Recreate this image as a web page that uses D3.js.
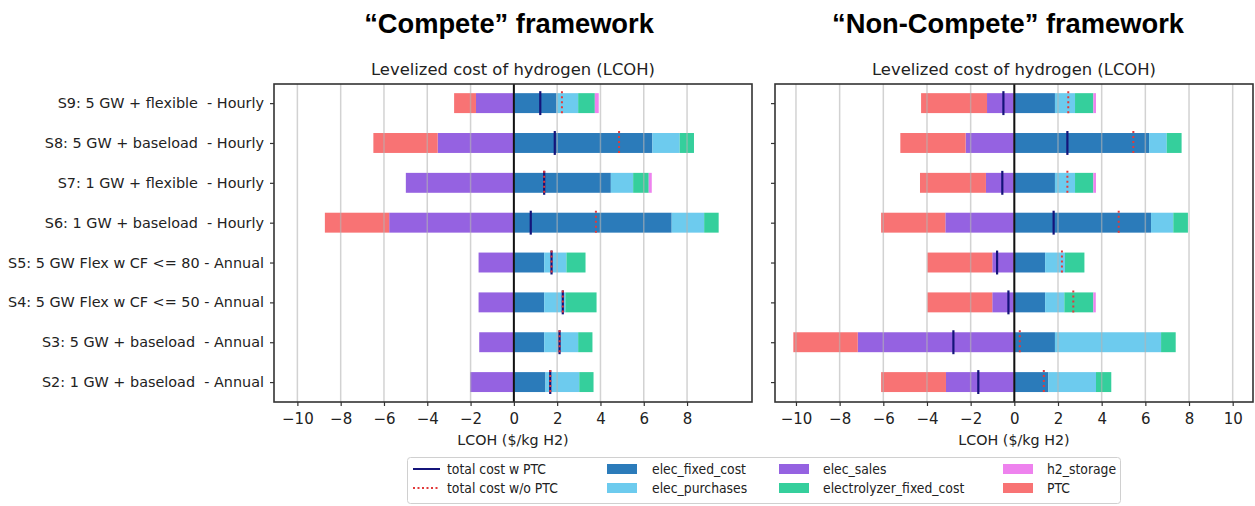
<!DOCTYPE html>
<html>
<head>
<meta charset="utf-8">
<script src="https://cdn.jsdelivr.net/npm/d3@7"></script>
<style>
  html, body { margin: 0; padding: 0; background: #fff; }
  svg { display: block; }
</style>
</head>
<body>
<svg id="chart" width="1255" height="506"></svg>
<script>
// Scenarios, bottom to top
const categories = [
  "S2: 1 GW + baseload  - Annual",
  "S3: 5 GW + baseload  - Annual",
  "S4: 5 GW Flex w CF <= 50 - Annual",
  "S5: 5 GW Flex w CF <= 80 - Annual",
  "S6: 1 GW + baseload  - Hourly",
  "S7: 1 GW + flexible  - Hourly",
  "S8: 5 GW + baseload  - Hourly",
  "S9: 5 GW + flexible  - Hourly"
];

// "Compete" framework components ($/kg H2)
const competeElecFixed      = [1.46, 1.40, 1.40, 1.40, 7.29, 4.48, 6.40, 1.97];
const competeElecPurchases  = [1.56, 1.57, 0.98, 1.03, 1.50, 1.03, 1.26, 1.00];
const competeElectrolyzer   = [0.66, 0.66, 1.44, 0.88, 0.67, 0.72, 0.66, 0.77];
const competeH2Storage      = [0.00, 0.00, 0.00, 0.00, 0.00, 0.14, 0.00, 0.18];
const competeElecSales      = [-2.02, -1.60, -1.63, -1.63, -5.76, -4.99, -3.52, -1.75];
const competePTC            = [0.00, 0.00, 0.00, 0.00, -2.97, 0.00, -2.97, -1.01];
const competeTotalWithPTC   = [1.68, 2.11, 2.26, 1.74, 0.78, 1.40, 1.89, 1.22];
const competeTotalNoPTC     = [1.68, 2.11, 2.26, 1.74, 3.79, 1.40, 4.86, 2.22];

// "Non-Compete" framework components ($/kg H2)
const nonElecFixed          = [1.56, 1.86, 1.41, 1.41, 6.26, 1.86, 6.17, 1.86];
const nonElecPurchases      = [2.18, 4.86, 0.88, 0.91, 1.02, 0.92, 0.81, 0.92];
const nonElectrolyzer       = [0.70, 0.67, 1.33, 0.89, 0.67, 0.84, 0.68, 0.84];
const nonH2Storage          = [0.00, 0.00, 0.11, 0.00, 0.00, 0.12, 0.00, 0.12];
const nonElecSales          = [-3.13, -7.17, -1.01, -1.01, -3.16, -1.30, -2.23, -1.25];
const nonPTC                = [-2.97, -2.95, -2.97, -2.97, -2.94, -3.02, -2.99, -3.02];
const nonTotalWithPTC       = [-1.65, -2.79, -0.27, -0.79, 1.80, -0.55, 2.43, -0.50];
const nonTotalNoPTC         = [1.35, 0.25, 2.70, 2.18, 4.78, 2.43, 5.45, 2.47];

const leftTicks  = [-10, -8, -6, -4, -2, 0, 2, 4, 6, 8];
const rightTicks = [-10, -8, -6, -4, -2, 0, 2, 4, 6, 8, 10];

const componentNames  = ["elec_fixed_cost", "elec_purchases", "electrolyzer_fixed_cost", "h2_storage", "elec_sales", "PTC"];
const componentColors = ["#2b7bba", "#6dcbee", "#35cf9c", "#ee82ee", "#9562e1", "#f87374"];

const svg = d3.select("#chart");
const FONT = "'DejaVu Sans', sans-serif";

function panel(opts) {
  const { x0, x1, y0, y1, domain, ticks, showLabels, title, heading, headingX, parts, totalWith, totalNo } = opts;
  const x = d3.scaleLinear().domain(domain).range([x0, x1]);
  const y = d3.scaleLinear().domain([-0.5, 7.48]).range([y1, y0]);
  const g = svg.append("g");

  // bars: positive parts stack right of zero, negative parts stack left
  const barH = y(0) - y(0.5);
  categories.forEach((c, i) => {
    let pos = 0, neg = 0;
    parts.forEach((arr, k) => {
      const v = arr[i];
      if (v === 0) return;
      let a, b;
      if (v > 0) { a = pos; b = pos + v; pos = b; }
      else { a = neg + v; b = neg; neg = a; }
      g.append("rect")
        .attr("x", x(a)).attr("width", x(b) - x(a))
        .attr("y", y(i) - barH / 2).attr("height", barH)
        .attr("fill", componentColors[k]);
    });
  });

  // vertical grid on top of bars
  g.selectAll("line.grid").data(ticks).join("line")
    .attr("class", "grid")
    .attr("x1", d => x(d)).attr("x2", d => x(d))
    .attr("y1", y0).attr("y2", y1)
    .attr("stroke", "#b4b4b4").attr("stroke-opacity", 0.6).attr("stroke-width", 1.5);

  // zero line
  g.append("line")
    .attr("x1", x(0)).attr("x2", x(0)).attr("y1", y0).attr("y2", y1)
    .attr("stroke", "#111").attr("stroke-width", 2);

  // totals with and without the PTC
  categories.forEach((c, i) => {
    g.append("line")
      .attr("x1", x(totalWith[i])).attr("x2", x(totalWith[i]))
      .attr("y1", y(i) - barH * 0.6).attr("y2", y(i) + barH * 0.6)
      .attr("stroke", "#14147a").attr("stroke-width", 2.2);
    g.append("line")
      .attr("x1", x(totalNo[i])).attr("x2", x(totalNo[i]))
      .attr("y1", y(i) - barH * 0.6).attr("y2", y(i) + barH * 0.6)
      .attr("stroke", "#e23a3a").attr("stroke-width", 2).attr("stroke-dasharray", "2,3");
  });

  // frame
  g.append("rect")
    .attr("x", x0).attr("y", y0).attr("width", x1 - x0).attr("height", y1 - y0)
    .attr("fill", "none").attr("stroke", "#333").attr("stroke-width", 1.6);

  // x axis
  const xAxis = d3.axisBottom(x).tickValues(ticks).tickSize(4).tickPadding(7)
    .tickFormat(d => d < 0 ? "\u2212" + Math.abs(d) : String(d));
  const xa = g.append("g").attr("transform", `translate(0,${y1})`).call(xAxis);
  xa.select(".domain").remove();
  xa.selectAll("line").attr("stroke", "#333").attr("stroke-width", 1.2);
  xa.selectAll("text").attr("font-family", FONT).attr("font-size", 15).attr("fill", "#222");

  // y axis
  const yAxis = d3.axisLeft(y).tickValues(d3.range(categories.length)).tickSize(4).tickPadding(6)
    .tickFormat(d => showLabels ? categories[d] : "");
  const ya = g.append("g").attr("transform", `translate(${x0},0)`).call(yAxis);
  ya.select(".domain").remove();
  ya.selectAll("line").attr("stroke", "#333").attr("stroke-width", 1.2);
  ya.selectAll("text").attr("font-family", FONT).attr("font-size", 14.4).attr("fill", "#222")
    .style("white-space", "pre");

  // axis label and titles
  g.append("text").attr("x", (x0 + x1) / 2).attr("y", 445)
    .attr("text-anchor", "middle").attr("font-family", FONT).attr("font-size", 14.3).attr("fill", "#222")
    .text("LCOH ($/kg H2)");
  g.append("text").attr("x", (x0 + x1) / 2).attr("y", 75)
    .attr("text-anchor", "middle").attr("font-family", FONT).attr("font-size", 16.4).attr("fill", "#222")
    .text(title);
  g.append("text").attr("x", headingX).attr("y", 33)
    .attr("text-anchor", "middle").attr("font-family", "'Liberation Sans', Arial, sans-serif")
    .attr("font-weight", "bold").attr("font-size", 27.3).attr("fill", "#000")
    .text(heading);
}

panel({
  x0: 274, x1: 752, y0: 84, y1: 402, domain: [-11.08, 11.0], ticks: leftTicks, showLabels: true,
  title: "Levelized cost of hydrogen (LCOH)", heading: "\u201CCompete\u201D framework", headingX: 509,
  parts: [competeElecFixed, competeElecPurchases, competeElectrolyzer, competeH2Storage, competeElecSales, competePTC],
  totalWith: competeTotalWithPTC, totalNo: competeTotalNoPTC
});
panel({
  x0: 775, x1: 1253, y0: 84, y1: 402, domain: [-10.96, 10.93], ticks: rightTicks, showLabels: false,
  title: "Levelized cost of hydrogen (LCOH)", heading: "\u201CNon-Compete\u201D framework", headingX: 1008,
  parts: [nonElecFixed, nonElecPurchases, nonElectrolyzer, nonH2Storage, nonElecSales, nonPTC],
  totalWith: nonTotalWithPTC, totalNo: nonTotalNoPTC
});

// legend
const legend = svg.append("g");
legend.append("rect").attr("x", 407.5).attr("y", 457.5).attr("width", 713).attr("height", 46)
  .attr("fill", "#fff").attr("stroke", "#d0d0d0").attr("rx", 3);
const LFONT = "'DejaVu Sans Condensed', 'DejaVu Sans', sans-serif";
const rowY = [469, 488];
const legendItems = [
  { type: "line", label: "total cost w PTC", col: 0, row: 0, color: "#14147a" },
  { type: "dot",  label: "total cost w/o PTC", col: 0, row: 1, color: "#e23a3a" },
  { type: "patch", label: componentNames[0], col: 1, row: 0, color: componentColors[0] },
  { type: "patch", label: componentNames[1], col: 1, row: 1, color: componentColors[1] },
  { type: "patch", label: componentNames[4], col: 2, row: 0, color: componentColors[4] },
  { type: "patch", label: componentNames[2], col: 2, row: 1, color: componentColors[2] },
  { type: "patch", label: componentNames[3], col: 3, row: 0, color: componentColors[3] },
  { type: "patch", label: componentNames[5], col: 3, row: 1, color: componentColors[5] }
];
const handleX = [413, 607, 779, 1003];
const textX = [447, 652, 823, 1047];
legendItems.forEach(it => {
  const cy = rowY[it.row], hx = handleX[it.col];
  if (it.type === "line") {
    legend.append("line").attr("x1", hx).attr("x2", hx + 27).attr("y1", cy).attr("y2", cy)
      .attr("stroke", it.color).attr("stroke-width", 2);
  } else if (it.type === "dot") {
    legend.append("line").attr("x1", hx).attr("x2", hx + 27).attr("y1", cy).attr("y2", cy)
      .attr("stroke", it.color).attr("stroke-width", 2).attr("stroke-dasharray", "2,2.5");
  } else {
    legend.append("rect").attr("x", hx).attr("y", cy - 5).attr("width", 30).attr("height", 10)
      .attr("fill", it.color);
  }
  legend.append("text").attr("x", textX[it.col]).attr("y", cy + 5)
    .attr("font-family", LFONT).attr("font-size", 13.8).attr("fill", "#222")
    .text(it.label);
});
</script>
</body>
</html>
